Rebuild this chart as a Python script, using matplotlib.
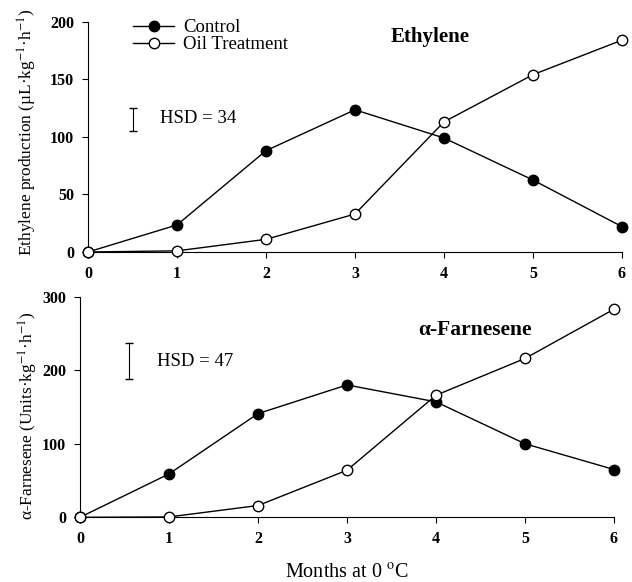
import matplotlib
matplotlib.use('Agg')
from matplotlib import pyplot as plt
from matplotlib.lines import Line2D

plt.rcParams['font.family'] = ['Liberation Serif', 'DejaVu Serif']
plt.rcParams['mathtext.fontset'] = 'stix'

months = [0, 1, 2, 3, 4, 5, 6]

# ethylene production (uL kg-1 h-1)
eth_control = [0, 23.5, 88, 123.5, 99, 62.5, 22]
eth_oil = [0, 1, 11, 33, 113, 154, 184]
eth_hsd = (105, 125)

# alpha-farnesene (units kg-1 h-1)
far_control = [0, 59, 141, 180, 157, 100, 65]
far_oil = [0, 0.5, 16, 64, 166, 216, 283]
far_hsd = (188, 237)

serif = 'Liberation Serif'

fig = plt.figure(figsize=(6.32, 5.82), dpi=100)
ax1 = fig.add_axes([88 / 632, 1 - 252 / 582, 534 / 632, 230.3 / 582])
ax2 = fig.add_axes([80 / 632, 1 - 517.3 / 582, 534 / 632, 220.6 / 582])


def draw_series(ax, ctrl, oil):
    ax.plot(months, ctrl, '-', color='black', lw=1.0, marker='o', ms=7.5,
            mfc='black', mec='black', clip_on=False, zorder=3)
    ax.plot(months, oil, '-', color='black', lw=1.0, marker='o', ms=7.5,
            mfc='white', mec='black', mew=1.0, clip_on=False, zorder=4)


def style_axes(ax, ymax, ystep):
    ax.set_xlim(0, 6)
    ax.set_ylim(0, ymax)
    ax.set_xticks(months)
    ax.set_yticks(range(0, ymax + 1, ystep))
    for s in ['top', 'right']:
        ax.spines[s].set_visible(False)
    for s in ['left', 'bottom']:
        ax.spines[s].set_linewidth(0.8)
    ax.tick_params(direction='out', length=4, width=0.8, labelsize=11.5, pad=6)
    for lab in ax.get_xticklabels() + ax.get_yticklabels():
        lab.set_fontweight('bold')


draw_series(ax1, eth_control, eth_oil)
style_axes(ax1, 200, 50)
ax1.plot([0.506, 0.506], eth_hsd, color='black', lw=0.8, marker='_', ms=6)
ax1.text(0.81, 116, 'HSD = 34', family=serif, fontsize=13.5, va='center')
ax1.text(3.84, 187, 'Ethylene', family=serif, fontsize=15, fontweight='bold',
         ha='center', va='center')
ax1.set_ylabel('Ethylene production (µL·kg$^{-1}$·h$^{-1}$)', fontsize=12.5)
ax1.yaxis.set_label_coords(-0.092, 0.52)

handles = [Line2D([], [], color='black', lw=1.0, marker='o', ms=7.5, mfc='black', mec='black'),
           Line2D([], [], color='black', lw=1.0, marker='o', ms=7.5, mfc='white', mec='black')]
ax1.legend(handles, ['Control', 'Oil Treatment'], loc='upper left',
           bbox_to_anchor=(0.053, 1.085), frameon=False,
           prop={'family': serif, 'size': 13.5},
           handlelength=2.2, handletextpad=0.45, labelspacing=0.0)

draw_series(ax2, far_control, far_oil)
style_axes(ax2, 300, 100)
ax2.plot([0.55, 0.55], far_hsd, color='black', lw=0.8, marker='_', ms=6)
ax2.text(0.86, 212, 'HSD = 47', family=serif, fontsize=13.5, va='center')
ax2.text(4.44, 255, 'α-Farnesene', family=serif, fontsize=15.5, fontweight='bold',
         ha='center', va='center')
ax2.set_ylabel('α-Farnesene (Units·kg$^{-1}$·h$^{-1}$)', fontsize=12.5)
ax2.yaxis.set_label_coords(-0.075, 0.46)
ax2.set_xlabel('Months at 0 $^{\\rm o}$C', fontsize=14.5, labelpad=12)

fig.savefig('out.png', dpi=100)
